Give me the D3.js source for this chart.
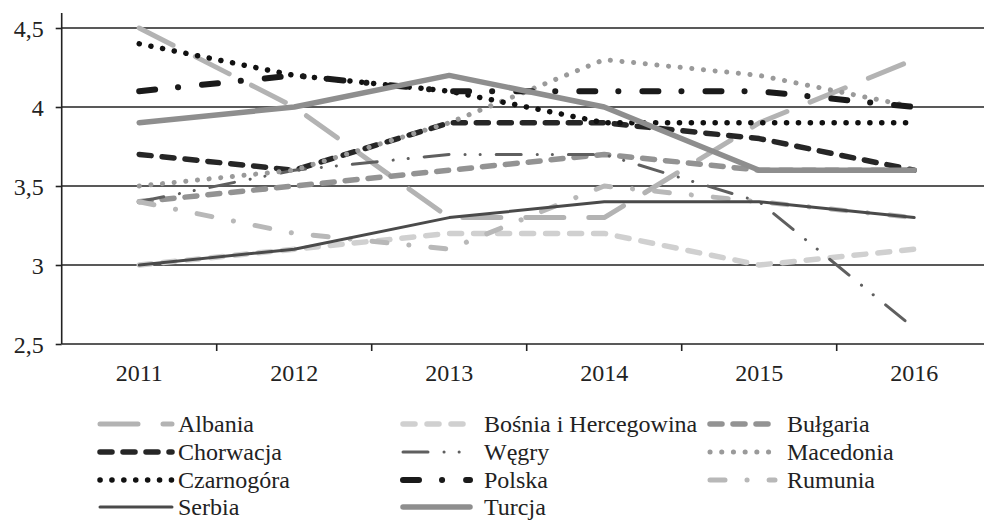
<!DOCTYPE html>
<html>
<head>
<meta charset="utf-8">
<script src="https://cdn.jsdelivr.net/npm/d3@7"></script>
<style>
  body { margin: 0; background: #fff; }
  svg { display: block; font-family: "Liberation Serif", "Times New Roman", serif; }
</style>
</head>
<body>
<svg id="chart"></svg>
<script>
const years = ['2011', '2012', '2013', '2014', '2015', '2016'];
const yTicks = [2.5, 3, 3.5, 4, 4.5];

const albania = [4.5, 4.0, 3.3, 3.3, 3.9, 4.3];
const bosnia = [3.0, 3.1, 3.2, 3.2, 3.0, 3.1];
const bulgaria = [3.4, 3.5, 3.6, 3.7, 3.6, 3.6];
const chorwacja = [3.7, 3.6, 3.9, 3.9, 3.8, 3.6];
const wegry = [3.4, 3.6, 3.7, 3.7, 3.4, 2.6];
const macedonia = [3.5, 3.6, 3.9, 4.3, 4.2, 4.0];
const czarnogora = [4.4, 4.2, 4.1, 3.9, 3.9, 3.9];
const polska = [4.1, 4.2, 4.1, 4.1, 4.1, 4.0];
const rumunia = [3.4, 3.2, 3.1, 3.5, 3.4, 3.3];
const serbia = [3.0, 3.1, 3.3, 3.4, 3.4, 3.3];
const turcja = [3.9, 4.0, 4.2, 4.0, 3.6, 3.6];

const seriesNames = ['Albania', 'Bośnia i Hercegowina', 'Bułgaria', 'Chorwacja', 'Węgry',
  'Macedonia', 'Czarnogóra', 'Polska', 'Rumunia', 'Serbia', 'Turcja'];
const seriesValues = [albania, bosnia, bulgaria, chorwacja, wegry,
  macedonia, czarnogora, polska, rumunia, serbia, turcja];

// line look per series (gray-scale print styles)
const styles = {
  'Albania': {color: '#b3b3b3', width: 5, dash: '38 25'},
  'Bośnia i Hercegowina': {color: '#d0d0d0', width: 5.5, dash: '12 12'},
  'Bułgaria': {color: '#939393', width: 5.5, dash: '12 11'},
  'Chorwacja': {color: '#262626', width: 5.5, dash: '12 11'},
  'Węgry': {color: '#5f5f5f', width: 3, dash: '25 16 0.1 15 0.1 16'},
  'Macedonia': {color: '#9a9a9a', width: 5, dash: '0.1 11.6'},
  'Czarnogóra': {color: '#111111', width: 5.5, dash: '0.1 11.8'},
  'Polska': {color: '#1a1a1a', width: 6, dash: '16 23 0.1 24'},
  'Rumunia': {color: '#b8b8b8', width: 5, dash: '15 22 0.1 22'},
  'Serbia': {color: '#4a4a4a', width: 3, dash: null},
  'Turcja': {color: '#8e8e8e', width: 5.5, dash: null}
};

const series = seriesNames.map((name, i) => ({
  name,
  values: seriesValues[i].map((v, j) => ({year: years[j], value: v}))
}));

const W = 984, H = 520;
const serif = '"Liberation Serif", "Times New Roman", serif';
const svg = d3.select('#chart').attr('width', W).attr('height', H);

const x = d3.scaleBand()
  .domain(years)
  .range([61.7, 991.7])
  .padding(0);

const y = d3.scaleLinear()
  .domain([2.5, 4.5])
  .range([344, 28]);

const ink = '#222';

// gridlines
svg.append('g')
  .selectAll('line')
  .data(yTicks.slice(1))
  .join('line')
  .attr('x1', x.range()[0])
  .attr('x2', W)
  .attr('y1', d => y(d))
  .attr('y2', d => y(d))
  .style('stroke', ink)
  .style('stroke-width', 1.6);

// y axis
const yAxis = svg.append('g')
  .attr('transform', `translate(${x.range()[0]},0)`)
  .call(d3.axisLeft(y).tickValues(yTicks).tickSize(6).tickPadding(12)
    .tickFormat(d => d3.format('.1~f')(d).replace('.', ',')));
yAxis.attr('font-family', serif);
yAxis.select('.domain').remove();
yAxis.selectAll('.tick line').style('stroke', ink).style('stroke-width', 1.6);
yAxis.selectAll('.tick text')
  .style('font-size', '24px')
  .style('font-family', serif)
  .style('fill', ink)
  .attr('dy', '0.34em');

svg.append('line')
  .attr('x1', x.range()[0]).attr('x2', x.range()[0])
  .attr('y1', 13).attr('y2', y(2.5))
  .style('stroke', ink)
  .style('stroke-width', 1.6);

// x axis with ticks between categories
svg.append('line')
  .attr('x1', x.range()[0]).attr('x2', W)
  .attr('y1', y(2.5)).attr('y2', y(2.5))
  .style('stroke', ink)
  .style('stroke-width', 1.6);

svg.append('g')
  .selectAll('line')
  .data(years.slice(1))
  .join('line')
  .attr('x1', d => x(d))
  .attr('x2', d => x(d))
  .attr('y1', y(2.5))
  .attr('y2', y(2.5) + 7)
  .style('stroke', ink)
  .style('stroke-width', 1.6);

svg.append('g')
  .selectAll('text')
  .data(years)
  .join('text')
  .attr('x', d => x(d) + x.bandwidth() / 2)
  .attr('y', 381)
  .attr('text-anchor', 'middle')
  .style('font-size', '24px')
  .style('fill', ink)
  .text(d => d);

// lines
const line = d3.line()
  .x(d => x(d.year) + x.bandwidth() / 2)
  .y(d => y(d.value));

svg.append('g')
  .selectAll('path')
  .data(series)
  .join('path')
  .attr('d', d => line(d.values))
  .style('fill', 'none')
  .style('stroke', d => styles[d.name].color)
  .style('stroke-width', d => styles[d.name].width)
  .style('stroke-dasharray', d => styles[d.name].dash)
  .style('stroke-linecap', 'round')
  .style('stroke-linejoin', 'round');

// legend, 3 columns, row-major
const legendCols = [{x0: 100, x1: 172, tx: 178}, {x0: 403, x1: 470, tx: 484}, {x0: 710, x1: 775, tx: 787}];
const legendRows = [424, 452, 480, 507];

const legend = svg.append('g')
  .selectAll('g')
  .data(series)
  .join('g')
  .attr('transform', (d, i) => `translate(0,${legendRows[Math.floor(i / 3)]})`);

legend.append('line')
  .attr('x1', (d, i) => legendCols[i % 3].x0)
  .attr('x2', (d, i) => legendCols[i % 3].x1)
  .style('stroke', d => styles[d.name].color)
  .style('stroke-width', d => styles[d.name].width)
  .style('stroke-dasharray', d => styles[d.name].dash)
  .style('stroke-linecap', 'round');

legend.append('text')
  .attr('x', (d, i) => legendCols[i % 3].tx)
  .attr('y', 8)
  .style('font-size', '24px')
  .style('fill', ink)
  .text(d => d.name);
</script>
</body>
</html>
